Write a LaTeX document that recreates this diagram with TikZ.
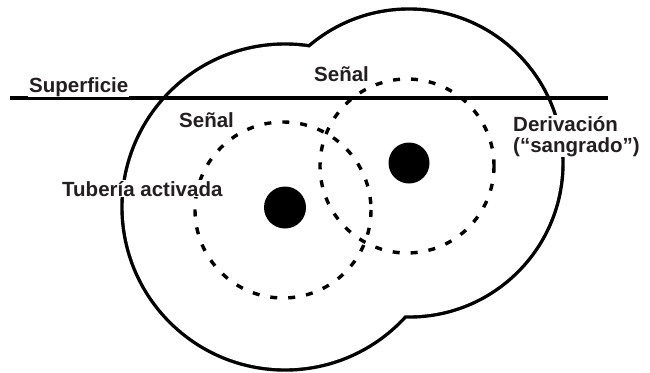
\documentclass[tikz,border=0pt]{standalone}
\usepackage{fontspec}
\setmainfont{Liberation Sans}
\definecolor{ink}{HTML}{231F20}
\tikzset{
  lbl/.style={font=\bfseries\fontsize{20.5}{21}\selectfont, text=ink, fill=white, inner sep=1pt, anchor=base west, align=left},
  zone/.style={line width=3.4pt, dash pattern=on 7pt off 11pt},
  pipe/.style={fill=black}
}
\begin{document}
\begin{tikzpicture}[x=1pt,y=-1pt]
\useasboundingbox (0,0) rectangle (650,372);
% outer envelope (union of two circles)
\draw[line width=6.8pt] (285,207) circle[radius=161.3] (409,163) circle[radius=152.3];
\fill[white] (285,207) circle[radius=161.3] (409,163) circle[radius=152.3];
% surface line
\coordinate (s1) at (10,98);
\coordinate (s2) at (608,98);
\draw[line width=3.4pt] (s1) -- (s2);
% signal zones
\draw[zone] (283,210) circle[radius=88];
\draw[zone] (407,166) circle[radius=87];
% pipes
\node[pipe, circle, minimum size=42pt, inner sep=0pt] (p1) at (285,207.5) {};
\node[pipe, circle, minimum size=41pt, inner sep=0pt] (p2) at (409,163) {};
% labels
\node[lbl] (sup) at (28,92) {Superficie};
\node[lbl] (sen1) at (178,127) {Señal};
\node[lbl] (sen2) at (313,81) {Señal};
\node[lbl] (der) at (512,152) {Derivación\\(“sangrado”)};
\node[lbl] (tub) at (61,196) {Tubería activada};
\end{tikzpicture}
\end{document}
